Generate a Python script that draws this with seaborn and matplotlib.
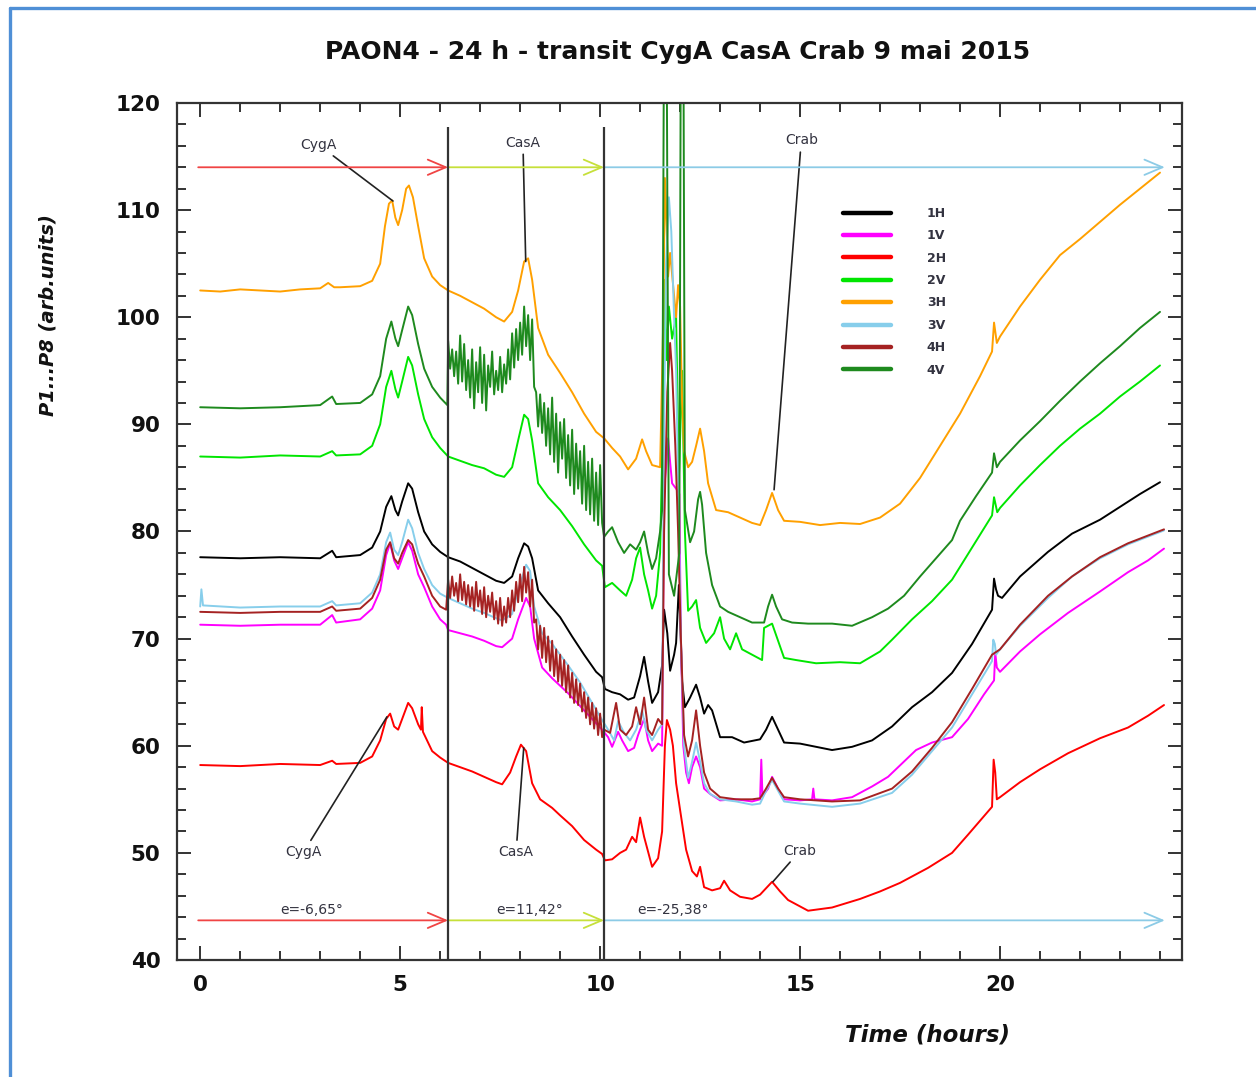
import numpy as np
import pandas as pd
import matplotlib
matplotlib.use("Agg")
import matplotlib.pyplot as plt
import seaborn as sns
from matplotlib.lines import Line2D
from matplotlib.ticker import MultipleLocator

# ---------------------------------------------------------------- data
CHANNELS = ["1H", "1V", "2H", "2V", "3H", "3V", "4H", "4V"]
PALETTE = {"1H": "#000000", "1V": "#ff00ff", "2H": "#ff0000", "2V": "#00e600",
           "3H": "#ffa000", "3V": "#87ceeb", "4H": "#a52222", "4V": "#1e8a1e"}

CH_1H = [(0, 77.6), (1, 77.5), (2, 77.6), (3.0, 77.5), (3.3, 78.2), (3.4, 77.6), (4.0, 77.8), (4.3, 78.5),
         (4.5, 80.0), (4.65, 82.3), (4.78, 83.3), (4.88, 82.0), (4.95, 81.5), (5.05, 82.8), (5.2, 84.5),
         (5.3, 84.0), (5.45, 81.8), (5.6, 80.0), (5.8, 78.8), (6.0, 78.1), (6.2, 77.6), (6.5, 77.2),
         (6.8, 76.6), (7.1, 76.0), (7.4, 75.4), (7.6, 75.2), (7.8, 75.8), (7.95, 77.5), (8.1, 78.9),
         (8.2, 78.6), (8.3, 77.5), (8.45, 74.5), (8.7, 73.3), (9.0, 72.0), (9.3, 70.2), (9.6, 68.5),
         (9.9, 66.9), (10.05, 66.4), (10.12, 65.3), (10.3, 65.0), (10.5, 64.8), (10.7, 64.3), (10.85, 64.5),
         (11.0, 66.5), (11.1, 68.3), (11.2, 66.0), (11.3, 64.0), (11.45, 65.0), (11.55, 67.5), (11.6, 72.7),
         (11.68, 70.5), (11.75, 67.0), (11.85, 68.5), (11.9, 69.6), (11.97, 75.0), (12.0, 72.0),
         (12.05, 66.0), (12.12, 63.6), (12.25, 64.5), (12.4, 65.7), (12.5, 64.5), (12.6, 63.0), (12.7, 63.8),
         (12.8, 63.3), (13.0, 60.8), (13.3, 60.8), (13.6, 60.3), (14.0, 60.6), (14.15, 61.5), (14.3, 62.7),
         (14.45, 61.5), (14.6, 60.3), (15.0, 60.2), (15.8, 59.6), (16.3, 59.9), (16.8, 60.5), (17.3, 61.8),
         (17.8, 63.6), (18.3, 65.0), (18.8, 66.8), (19.3, 69.5), (19.8, 72.7), (19.85, 75.6), (19.9, 74.6),
         (19.95, 74.0), (20.05, 73.8), (20.5, 75.8), (21.2, 78.1), (21.8, 79.8), (22.5, 81.1), (23.0, 82.3),
         (23.5, 83.5), (24.0, 84.6)]

CH_1V = [(0, 71.3), (1, 71.2), (2, 71.3), (3.0, 71.3), (3.3, 72.2), (3.4, 71.5), (4.0, 71.8), (4.3, 72.8),
         (4.5, 74.5), (4.65, 77.8), (4.75, 78.9), (4.85, 77.3), (4.95, 76.5), (5.05, 77.5), (5.2, 79.0),
         (5.3, 78.2), (5.45, 76.0), (5.6, 74.8), (5.8, 73.0), (6.0, 71.8), (6.15, 71.3), (6.2, 70.8),
         (6.5, 70.5), (6.8, 70.2), (7.1, 69.8), (7.4, 69.3), (7.55, 69.2), (7.8, 70.0), (7.95, 71.8),
         (8.15, 73.8), (8.25, 73.0), (8.35, 70.0), (8.55, 67.3), (8.8, 66.3), (9.2, 64.9), (9.5, 63.7),
         (9.8, 62.5), (10.05, 61.5), (10.2, 60.8), (10.3, 59.9), (10.45, 61.3), (10.55, 60.5), (10.7, 59.5),
         (10.85, 59.8), (10.95, 61.0), (11.1, 62.5), (11.2, 60.5), (11.3, 59.5), (11.45, 60.2), (11.55, 60.0),
         (11.6, 84.0), (11.65, 86.0), (11.7, 88.7), (11.75, 86.5), (11.8, 84.5), (11.9, 84.0), (11.98, 83.5),
         (12.02, 70.0), (12.08, 60.0), (12.15, 57.5), (12.22, 56.5), (12.3, 58.0), (12.4, 59.0), (12.5, 58.0),
         (12.6, 56.0), (12.75, 55.5), (13.0, 54.9), (13.4, 55.0), (13.8, 54.8), (14.0, 55.0), (14.03, 58.7),
         (14.06, 55.3), (14.2, 56.0), (14.3, 57.1), (14.45, 56.0), (14.6, 55.0), (15.0, 54.9), (15.3, 55.0),
         (15.33, 56.0), (15.36, 55.0), (15.8, 54.9), (16.3, 55.2), (16.8, 56.2), (17.2, 57.1), (17.9, 59.6),
         (18.3, 60.3), (18.8, 60.8), (19.2, 62.5), (19.6, 64.8), (19.85, 66.1), (19.88, 68.7), (19.92, 67.3),
         (20.0, 66.9), (20.5, 68.8), (21.0, 70.4), (21.7, 72.4), (22.5, 74.4), (23.2, 76.2), (23.7, 77.3),
         (24.1, 78.4)]

CH_2H = [(0, 58.2), (1, 58.1), (2, 58.3), (3.0, 58.2), (3.3, 58.6), (3.4, 58.3), (4.0, 58.4), (4.3, 59.0),
         (4.5, 60.5), (4.65, 62.5), (4.75, 63.0), (4.85, 61.8), (4.95, 61.5), (5.05, 62.5), (5.2, 64.0),
         (5.3, 63.5), (5.45, 62.0), (5.52, 61.5), (5.54, 63.6), (5.57, 61.3), (5.8, 59.5), (6.0, 58.9),
         (6.2, 58.4), (6.5, 58.0), (6.8, 57.6), (7.1, 57.1), (7.4, 56.6), (7.55, 56.4), (7.75, 57.5),
         (7.9, 59.0), (8.02, 60.1), (8.15, 59.5), (8.3, 56.5), (8.5, 55.0), (8.8, 54.2), (9.0, 53.5),
         (9.3, 52.5), (9.6, 51.2), (9.9, 50.3), (10.05, 49.9), (10.12, 49.3), (10.3, 49.4), (10.5, 50.0),
         (10.65, 50.3), (10.8, 51.5), (10.9, 51.0), (11.0, 53.3), (11.1, 51.5), (11.3, 48.7), (11.45, 49.5),
         (11.55, 52.0), (11.62, 60.0), (11.67, 62.4), (11.75, 61.5), (11.82, 60.0), (11.9, 56.5), (12.0, 54.0),
         (12.15, 50.3), (12.3, 48.3), (12.42, 47.8), (12.5, 48.7), (12.6, 46.8), (12.8, 46.5), (13.0, 46.7),
         (13.1, 47.4), (13.25, 46.5), (13.5, 45.9), (13.8, 45.7), (14.0, 46.1), (14.3, 47.3), (14.5, 46.4),
         (14.7, 45.6), (15.0, 45.0), (15.2, 44.6), (15.8, 44.9), (16.5, 45.7), (17.0, 46.4), (17.5, 47.2),
         (18.2, 48.6), (18.8, 50.0), (19.2, 51.7), (19.5, 53.0), (19.8, 54.3), (19.84, 58.7), (19.88, 57.5),
         (19.92, 55.0), (20.0, 55.2), (20.5, 56.6), (21.0, 57.8), (21.7, 59.3), (22.5, 60.7), (23.2, 61.7),
         (23.7, 62.8), (24.1, 63.8)]

CH_2V = [(0, 87.0), (1, 86.9), (2, 87.1), (3.0, 87.0), (3.3, 87.5), (3.4, 87.1), (4.0, 87.2), (4.3, 88.0),
         (4.5, 90.0), (4.65, 93.5), (4.78, 95.0), (4.88, 93.3), (4.95, 92.5), (5.05, 94.0), (5.2, 96.3),
         (5.3, 95.5), (5.45, 92.8), (5.6, 90.5), (5.8, 88.8), (6.0, 87.8), (6.2, 87.0), (6.5, 86.6),
         (6.8, 86.2), (7.1, 85.9), (7.4, 85.3), (7.6, 85.1), (7.8, 86.0), (7.95, 88.5), (8.1, 90.9),
         (8.2, 90.5), (8.3, 88.5), (8.45, 84.5), (8.7, 83.2), (9.0, 82.0), (9.3, 80.5), (9.6, 78.8),
         (9.9, 77.3), (10.05, 76.8), (10.12, 74.8), (10.3, 75.2), (10.5, 74.5), (10.65, 74.0), (10.8, 75.5),
         (10.9, 77.5), (11.0, 78.5), (11.1, 76.0), (11.2, 74.5), (11.3, 72.8), (11.4, 74.0), (11.5, 78.0),
         (11.58, 92.0), (11.62, 103.5), (11.66, 96.0), (11.72, 101.0), (11.8, 98.0), (11.9, 100.0),
         (11.97, 85.0), (12.05, 95.0), (12.12, 80.0), (12.2, 72.6), (12.3, 73.0), (12.4, 73.6), (12.5, 71.0),
         (12.65, 69.6), (12.85, 70.5), (13.0, 72.0), (13.1, 70.0), (13.25, 69.0), (13.4, 70.5), (13.55, 69.0),
         (13.8, 68.5), (14.05, 68.0), (14.1, 71.0), (14.3, 71.4), (14.45, 69.8), (14.6, 68.2), (14.9, 68.0),
         (15.4, 67.7), (16.0, 67.8), (16.5, 67.7), (17.0, 68.8), (17.3, 69.9), (17.8, 71.8), (18.3, 73.5),
         (18.8, 75.5), (19.3, 78.5), (19.8, 81.5), (19.85, 83.2), (19.93, 81.8), (20.0, 82.2), (20.5, 84.3),
         (21.0, 86.2), (21.5, 88.0), (22.0, 89.6), (22.5, 91.0), (23.0, 92.6), (23.5, 94.0), (24.0, 95.5)]

CH_3H = [(0, 102.5), (0.5, 102.4), (1, 102.6), (1.5, 102.5), (2, 102.4), (2.5, 102.6), (3.0, 102.7),
         (3.2, 103.2), (3.35, 102.8), (3.5, 102.8), (4.0, 102.9), (4.3, 103.4), (4.5, 105.0), (4.62, 108.5),
         (4.72, 110.6), (4.8, 110.9), (4.88, 109.3), (4.95, 108.6), (5.05, 110.0), (5.15, 112.0),
         (5.22, 112.3), (5.32, 111.2), (5.45, 108.5), (5.6, 105.5), (5.8, 103.8), (6.0, 103.0), (6.2, 102.5),
         (6.5, 102.0), (6.8, 101.4), (7.1, 100.8), (7.4, 100.0), (7.6, 99.6), (7.8, 100.5), (7.95, 102.5),
         (8.1, 105.2), (8.2, 105.5), (8.3, 103.5), (8.45, 99.0), (8.7, 96.5), (9.0, 94.8), (9.3, 93.0),
         (9.6, 91.0), (9.9, 89.3), (10.1, 88.7), (10.3, 87.8), (10.5, 87.0), (10.7, 85.8), (10.9, 86.8),
         (11.05, 88.6), (11.15, 87.5), (11.3, 86.2), (11.5, 86.0), (11.58, 100.0), (11.62, 113.0),
         (11.66, 109.0), (11.7, 103.8), (11.75, 106.0), (11.8, 104.0), (11.9, 100.0), (11.95, 103.0),
         (12.0, 101.0), (12.05, 92.0), (12.1, 87.5), (12.2, 86.0), (12.3, 86.5), (12.4, 88.0), (12.5, 89.6),
         (12.6, 87.5), (12.7, 84.5), (12.9, 82.0), (13.2, 81.8), (13.5, 81.3), (13.8, 80.8), (14.0, 80.6),
         (14.15, 82.0), (14.3, 83.6), (14.45, 82.0), (14.6, 81.0), (15.0, 80.9), (15.5, 80.6), (16.0, 80.8),
         (16.5, 80.7), (17.0, 81.3), (17.5, 82.6), (18.0, 85.0), (18.5, 88.0), (19.0, 91.0), (19.5, 94.5),
         (19.8, 96.8), (19.85, 99.5), (19.92, 97.6), (20.0, 98.2), (20.5, 101.0), (21.0, 103.5),
         (21.5, 105.8), (22.0, 107.3), (22.5, 108.9), (23.0, 110.5), (23.5, 112.0), (24.0, 113.5)]

CH_3V = [(0, 73.0), (0.03, 74.6), (0.07, 73.1), (1, 72.9), (2, 73.0), (3.0, 73.0), (3.3, 73.5), (3.4, 73.1),
         (4.0, 73.3), (4.3, 74.3), (4.5, 76.0), (4.65, 79.0), (4.75, 79.9), (4.85, 78.3), (4.95, 77.8),
         (5.05, 79.0), (5.2, 81.1), (5.3, 80.3), (5.45, 78.0), (5.6, 76.5), (5.8, 75.0), (6.0, 74.2),
         (6.2, 73.8), (6.5, 73.3), (6.8, 72.8), (7.1, 72.4), (7.4, 71.9), (7.55, 71.7), (7.8, 72.3),
         (7.95, 74.5), (8.15, 76.9), (8.25, 76.3), (8.35, 73.0), (8.55, 70.5), (8.8, 69.5), (9.2, 67.5),
         (9.5, 65.9), (9.8, 64.0), (10.05, 62.4), (10.2, 61.5), (10.35, 60.5), (10.45, 62.3), (10.6, 61.2),
         (10.75, 60.5), (10.9, 61.5), (11.05, 63.3), (11.15, 61.5), (11.3, 60.5), (11.45, 61.5), (11.55, 62.0),
         (11.6, 90.0), (11.65, 105.0), (11.72, 111.2), (11.78, 108.0), (11.85, 100.0), (11.9, 95.0),
         (11.95, 85.0), (12.02, 70.0), (12.1, 60.0), (12.2, 57.0), (12.3, 58.5), (12.4, 60.3), (12.5, 58.5),
         (12.6, 56.5), (12.75, 55.5), (13.0, 55.0), (13.4, 54.8), (13.8, 54.5), (14.0, 54.6), (14.15, 55.8),
         (14.3, 56.8), (14.45, 55.8), (14.6, 54.8), (15.0, 54.6), (15.8, 54.3), (16.5, 54.6), (17.3, 55.6),
         (17.8, 57.3), (18.3, 59.5), (18.8, 61.7), (19.3, 64.8), (19.8, 67.9), (19.83, 69.9), (19.87, 69.5),
         (19.9, 68.5), (20.0, 69.0), (20.5, 71.2), (21.2, 73.8), (21.8, 75.8), (22.5, 77.5), (23.2, 78.8),
         (24.1, 80.1)]

CH_4H_START = [(0, 72.5), (1, 72.4), (2, 72.5), (3.0, 72.5), (3.3, 73.0), (3.4, 72.6), (4.0, 72.8),
               (4.3, 73.8), (4.5, 75.5), (4.65, 78.3), (4.75, 79.0), (4.85, 77.5), (4.95, 77.0), (5.05, 78.0),
               (5.2, 79.2), (5.3, 78.8), (5.45, 77.0), (5.6, 75.8), (5.8, 74.0), (6.0, 73.0), (6.15, 72.7)]
# noisy stretch, one reading every 0.05 h from 6.20 h
CH_4H_NOISY = [75.5, 73.8, 75.8, 74.0, 75.2, 73.5, 76.0, 73.6, 75.3, 73.2, 75.0, 73.0, 74.8, 72.6, 75.3,
               73.0, 74.5, 72.3, 74.8, 72.0, 74.0, 72.5, 74.3, 71.8, 73.5, 71.4, 73.8, 71.2, 73.0, 71.5,
               73.8, 72.0, 74.5, 72.6, 75.3, 73.4, 76.0, 73.5, 76.7, 74.3, 76.2, 73.0, 75.5, 71.5, 71.8,
               69.0, 71.2, 68.2, 71.0, 67.8, 70.2, 67.0, 69.8, 66.5, 69.0, 66.0, 68.5, 65.6, 68.0, 65.0,
               67.5, 64.5, 66.8, 64.0, 66.2, 63.8, 65.8, 63.2, 65.0, 62.6, 64.5, 62.0, 64.0, 61.6, 63.5,
               61.0, 63.0, 60.8]
CH_4H_END = [(10.1, 61.5), (10.25, 61.2), (10.4, 64.0), (10.5, 61.5), (10.65, 61.0), (10.8, 61.8),
             (10.9, 63.6), (11.0, 62.0), (11.1, 64.5), (11.2, 61.5), (11.3, 61.0), (11.45, 62.5), (11.55, 62.0),
             (11.6, 80.0), (11.68, 93.0), (11.75, 97.6), (11.8, 95.0), (11.88, 88.0), (11.95, 80.0),
             (12.02, 70.0), (12.1, 61.0), (12.2, 59.0), (12.3, 60.5), (12.4, 63.3), (12.5, 60.0), (12.6, 57.5),
             (12.75, 56.0), (13.0, 55.2), (13.4, 55.0), (13.8, 55.0), (14.0, 55.1), (14.15, 56.0), (14.3, 57.0),
             (14.45, 56.0), (14.6, 55.2), (15.0, 55.0), (15.8, 54.8), (16.5, 54.9), (17.3, 56.0), (17.8, 57.6),
             (18.3, 59.8), (18.8, 62.2), (19.3, 65.3), (19.8, 68.5), (20.0, 69.0), (20.5, 71.3), (21.2, 74.0),
             (21.8, 75.8), (22.5, 77.6), (23.2, 78.9), (24.1, 80.2)]

CH_4V_START = [(0, 91.6), (1, 91.5), (2, 91.6), (3.0, 91.8), (3.3, 92.6), (3.4, 91.9), (4.0, 92.0),
               (4.3, 92.8), (4.5, 94.5), (4.65, 98.0), (4.78, 99.6), (4.88, 98.0), (4.95, 97.3), (5.05, 98.8),
               (5.2, 101.0), (5.3, 100.2), (5.45, 97.5), (5.6, 95.2), (5.8, 93.5), (6.0, 92.5), (6.18, 91.8)]
CH_4V_NOISY = [97.8, 95.2, 97.0, 94.5, 96.8, 93.8, 98.3, 94.0, 97.5, 93.2, 96.0, 92.5, 97.0, 91.5, 95.8,
               93.0, 97.2, 92.0, 96.5, 91.3, 95.5, 93.5, 96.8, 92.8, 95.0, 93.2, 96.3, 93.0, 95.6, 93.8,
               97.0, 94.2, 98.5, 95.3, 98.9, 96.0, 99.5, 96.5, 101.0, 97.3, 100.2, 96.0, 99.8, 93.5, 93.0,
               89.8, 92.8, 89.2, 92.0, 88.0, 91.5, 87.2, 92.5, 86.5, 91.0, 85.5, 90.2, 86.8, 90.5, 85.0,
               89.0, 84.3, 89.5, 83.5, 88.2, 84.0, 87.5, 82.6, 88.0, 82.0, 86.5, 81.6, 86.8, 81.0, 85.5,
               80.6, 86.2, 80.8]
CH_4V_END = [(10.1, 79.5), (10.2, 80.0), (10.3, 80.4), (10.45, 79.0), (10.6, 78.0), (10.75, 78.8),
             (10.9, 78.3), (11.0, 79.0), (11.1, 80.0), (11.2, 78.0), (11.3, 76.5), (11.4, 77.5), (11.5, 80.0),
             (11.55, 82.0), (11.6, 130.0), (11.66, 130.0), (11.72, 76.0), (11.85, 74.0), (11.98, 78.0),
             (12.02, 130.0), (12.08, 130.0), (12.12, 82.0), (12.25, 79.0), (12.35, 80.0), (12.45, 83.0),
             (12.5, 83.7), (12.55, 82.5), (12.65, 78.0), (12.8, 75.0), (13.0, 73.0), (13.2, 72.5), (13.5, 72.0),
             (13.8, 71.5), (14.1, 71.5), (14.2, 73.0), (14.3, 74.1), (14.4, 73.0), (14.55, 71.8), (14.8, 71.5),
             (15.2, 71.4), (15.8, 71.4), (16.3, 71.2), (16.8, 72.0), (17.2, 72.8), (17.6, 74.0), (18.0, 75.8),
             (18.4, 77.5), (18.8, 79.2), (19.0, 81.0), (19.4, 83.3), (19.8, 85.5), (19.85, 87.3), (19.92, 86.0),
             (20.0, 86.5), (20.5, 88.5), (21.0, 90.3), (21.5, 92.2), (22.0, 94.0), (22.5, 95.7), (23.0, 97.3),
             (23.5, 99.0), (24.0, 100.5)]
NOISY_T0, NOISY_STEP = 6.20, 0.05

# annotation layout values
SEGMENT_BOUNDS = [6.2, 10.1]
ARROW_X = [-0.05, 6.2, 10.1, 24.12]
ARROW_COLORS = ["#f04444", "#c6e03a", "#8ccbe6"]
ARROW_Y_TOP, ARROW_Y_BOTTOM = 114.0, 43.7
ELEV_LABELS = [("e=-6,65°", 2.8), ("e=11,42°", 8.24), ("e=-25,38°", 11.83)]
SOURCE_LABELS = [("CygA", (2.96, 116.1), (4.82, 110.85)),
                 ("CasA", (8.07, 116.3), (8.14, 105.2)),
                 ("Crab", (15.03, 116.5), (14.35, 83.9)),
                 ("CygA", (2.59, 50.1), (4.67, 62.7)),
                 ("CasA", (7.90, 50.1), (8.09, 59.8)),
                 ("Crab", (15.0, 50.2), (14.32, 47.3))]


def to_frame(name, pairs_a, noisy=None, pairs_b=None):
    t = [p[0] for p in pairs_a]
    v = [p[1] for p in pairs_a]
    if noisy is not None:
        t += list(NOISY_T0 + NOISY_STEP * np.arange(len(noisy)))
        v += list(noisy)
        t += [p[0] for p in pairs_b]
        v += [p[1] for p in pairs_b]
    return pd.DataFrame({"t": t, "v": v, "ch": name})


df = pd.concat([
    to_frame("1H", CH_1H), to_frame("1V", CH_1V), to_frame("2H", CH_2H), to_frame("2V", CH_2V),
    to_frame("3H", CH_3H), to_frame("3V", CH_3V),
    to_frame("4H", CH_4H_START, CH_4H_NOISY, CH_4H_END),
    to_frame("4V", CH_4V_START, CH_4V_NOISY, CH_4V_END),
], ignore_index=True)

# ---------------------------------------------------------------- style
sns.set_style("ticks")
plt.rcParams["font.family"] = ["DejaVu Sans"]
TXT = "#333340"

fig = plt.figure(figsize=(12.56, 10.77), dpi=100)
ax = fig.add_axes([177 / 1256, 1 - 960 / 1077, 1005 / 1256, 857 / 1077])

sns.lineplot(data=df, x="t", y="v", hue="ch", hue_order=CHANNELS, palette=PALETTE,
             estimator=None, sort=False, legend=False, linewidth=1.4, ax=ax)

ax.set_xlim(-0.58, 24.55)
ax.set_ylim(40, 120)
ax.xaxis.set_major_locator(MultipleLocator(5))
ax.xaxis.set_minor_locator(MultipleLocator(1))
ax.yaxis.set_major_locator(MultipleLocator(10))
ax.yaxis.set_minor_locator(MultipleLocator(2))
ax.tick_params(which="both", direction="in", top=True, right=True, color="#333333", width=1.4,
               labelcolor="#111111")
ax.tick_params(which="major", length=10)
ax.tick_params(which="minor", length=6.5)
ax.tick_params(axis="y", which="major", pad=12, labelsize=15.5)
ax.tick_params(axis="x", which="major", pad=11, labelsize=15.5)
for lab in ax.get_xticklabels() + ax.get_yticklabels():
    lab.set_fontweight("bold")
for sp in ax.spines.values():
    sp.set_linewidth(1.6)
    sp.set_color("#333333")
ax.set_xlabel("")
ax.set_ylabel("")

# segment boundaries
ax.vlines(SEGMENT_BOUNDS, 40, 117.8, colors="#333333", linewidth=1.6, zorder=5)

# arrows
for yy in (ARROW_Y_TOP, ARROW_Y_BOTTOM):
    for i, col in enumerate(ARROW_COLORS):
        ax.annotate("", xy=(ARROW_X[i + 1], yy), xytext=(ARROW_X[i], yy),
                    arrowprops=dict(arrowstyle="->,head_length=1.3,head_width=0.55", color=col,
                                    lw=1.3, shrinkA=0, shrinkB=0, mutation_scale=10), zorder=4)

for txt, xx in ELEV_LABELS:
    ax.text(xx, 44.7, txt, ha="center", va="center", fontsize=10, color=TXT)

for txt, xyt, xy in SOURCE_LABELS:
    ax.annotate(txt, xy=xy, xytext=xyt, ha="center", va="center", fontsize=10, color=TXT,
                arrowprops=dict(arrowstyle="-", color="#222222", lw=1.2, shrinkA=1, shrinkB=0))

# legend
handles = [Line2D([0], [0], color=PALETTE[c], lw=3.2) for c in CHANNELS]
leg = ax.legend(handles, CHANNELS, loc="upper left", bbox_to_anchor=((843 - 177) / 1005, (960 - 207) / 857),
                frameon=False, fontsize=9, handlelength=3.8, handletextpad=2.9, labelspacing=0.75,
                borderpad=0, borderaxespad=0)
for t in leg.get_texts():
    t.set_color(TXT)
    t.set_fontweight("bold")

# titles
fig.text(678 / 1256, 1 - 52 / 1077, "PAON4 - 24 h - transit CygA CasA Crab 9 mai 2015",
         ha="center", va="center", fontsize=18, fontweight="bold", color="#111111")
fig.text(48 / 1256, 1 - 315 / 1077, "P1...P8 (arb.units)", rotation=90, ha="center", va="center",
         fontsize=14, fontweight="bold", fontstyle="italic", color="#111111")
fig.text(928 / 1256, 1 - 1035 / 1077, "Time (hours)", ha="center", va="center",
         fontsize=16.5, fontweight="bold", fontstyle="italic", color="#111111")

# outer blue frame
fig.add_artist(Line2D([10 / 1256, 1], [1 - 8 / 1077, 1 - 8 / 1077], transform=fig.transFigure,
                      color="#4f8fd6", lw=2.4))
fig.add_artist(Line2D([10 / 1256, 10 / 1256], [0, 1 - 8 / 1077], transform=fig.transFigure,
                      color="#4f8fd6", lw=2.4))

fig.savefig("out.png", dpi=100)
